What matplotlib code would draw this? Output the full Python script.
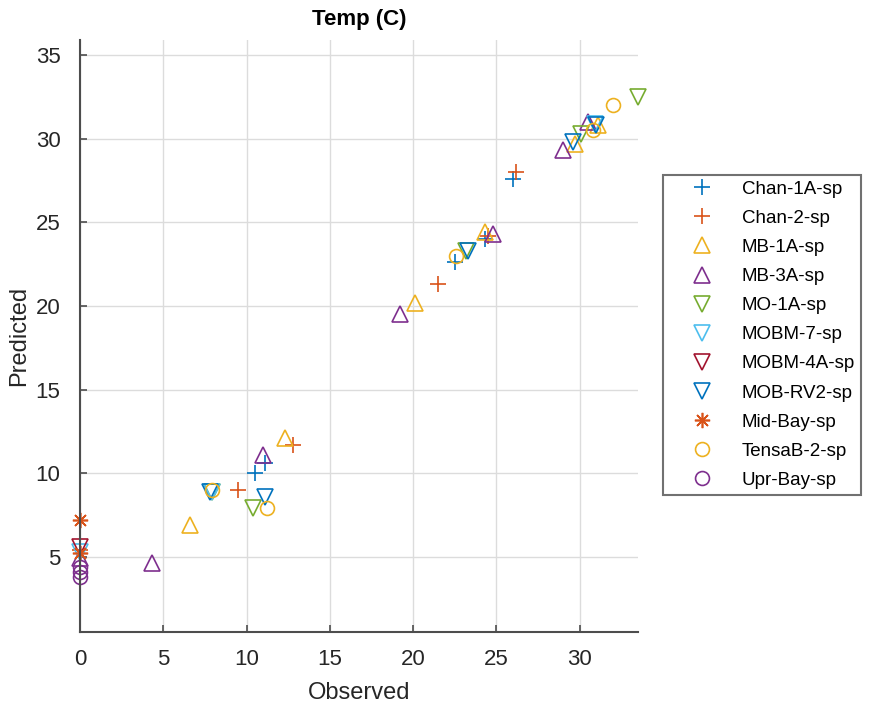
import numpy as np
import matplotlib
matplotlib.use('Agg')
import matplotlib.pyplot as plt

plt.rcParams['font.family'] = ['Liberation Sans', 'DejaVu Sans']

# observed / predicted temperature per station
stations = ['Chan-1A-sp', 'Chan-2-sp', 'MB-1A-sp', 'MB-3A-sp', 'MO-1A-sp',
            'MOBM-7-sp', 'MOBM-4A-sp', 'MOB-RV2-sp', 'Mid-Bay-sp',
            'TensaB-2-sp', 'Upr-Bay-sp']

obs_chan1a = [10.5, 11.1, 22.5, 24.3, 26.0]
pred_chan1a = [10.0, 10.6, 22.6, 24.0, 27.6]

obs_chan2 = [0.0, 9.5, 12.8, 21.5, 24.5, 26.2]
pred_chan2 = [5.4, 9.0, 11.7, 21.3, 24.2, 28.0]

obs_mb1a = [6.6, 12.3, 20.1, 24.3, 29.7, 31.1]
pred_mb1a = [6.9, 12.1, 20.2, 24.4, 29.7, 30.8]

obs_mb3a = [0.0, 4.3, 11.0, 19.2, 24.8, 29.0, 30.5]
pred_mb3a = [4.9, 4.6, 11.1, 19.5, 24.3, 29.3, 31.0]

obs_mo1a = [7.9, 10.4, 23.2, 30.1, 33.5]
pred_mo1a = [8.9, 7.9, 23.3, 30.3, 32.5]

obs_mobm7 = [0.0, 7.9, 30.9]
pred_mobm7 = [5.3, 8.9, 30.9]

obs_mobm4a = [0.0]
pred_mobm4a = [5.6]

obs_mobrv2 = [7.8, 11.1, 23.3, 29.6, 31.0]
pred_mobrv2 = [8.9, 8.6, 23.3, 29.8, 30.8]

obs_midbay = [0.0, 0.0]
pred_midbay = [7.2, 5.2]

obs_tensab2 = [7.9, 11.2, 22.6, 30.8, 32.0]
pred_tensab2 = [9.0, 7.9, 23.0, 30.5, 32.0]

obs_uprbay = [0.0, 0.0, 0.0]
pred_uprbay = [4.4, 4.1, 3.8]

OBS = [obs_chan1a, obs_chan2, obs_mb1a, obs_mb3a, obs_mo1a, obs_mobm7,
       obs_mobm4a, obs_mobrv2, obs_midbay, obs_tensab2, obs_uprbay]
PRED = [pred_chan1a, pred_chan2, pred_mb1a, pred_mb3a, pred_mo1a, pred_mobm7,
        pred_mobm4a, pred_mobrv2, pred_midbay, pred_tensab2, pred_uprbay]

col = ['#0072BD', '#D95319', '#EDB120', '#7E2F8E', '#77AC30', '#4DBEEE', '#A2142F']
colors = [col[0], col[1], col[2], col[3], col[4], col[5], col[6], col[0], col[1], col[2], col[3]]
# (8, 2, 0) = eight-spoke asterisk
markers = ['+', '+', '^', '^', 'v', 'v', 'v', 'v', (8, 2, 0), 'o', 'o']
sizes = [12, 12, 11, 11, 11, 11, 11, 11, 11, 10, 10]

fig = plt.figure(figsize=(8.73, 7.06), dpi=100)
ax = fig.add_axes([80/873, 1-632/706, (638-80)/873, (632-40)/706])

for i in range(len(stations)):
    ax.plot(OBS[i], PRED[i], linestyle='none', marker=markers[i], ms=sizes[i],
            mfc='none', mec=colors[i], mew=1.2, label=stations[i], clip_on=False)

ax.set_xlim(0, 33.5)
ax.set_ylim(0.5, 35.9)
ax.set_xticks(np.arange(0, 35, 5))
ax.set_yticks(np.arange(5, 40, 5))
ax.grid(True, color='#dcdcdc', linewidth=1.0)
ax.set_axisbelow(True)
for s in ['top', 'right']:
    ax.spines[s].set_visible(False)
for s in ['left', 'bottom']:
    ax.spines[s].set_color('#4d4d4d')
    ax.spines[s].set_linewidth(1.5)
ax.tick_params(direction='in', length=5, width=1.2, color='#4d4d4d',
               labelsize=16, labelcolor='#262626')
ax.tick_params(axis='y', pad=14)
ax.tick_params(axis='x', pad=12)

ax.set_title('Temp (C)', fontsize=16, fontweight='bold', pad=11)
ax.set_xlabel('Observed', fontsize=17, color='#262626', labelpad=9)
ax.set_ylabel('Predicted', fontsize=17, color='#262626', labelpad=4)

leg = fig.legend(loc='upper left', bbox_to_anchor=(663/873, 1-175/706),
                 fontsize=13.5, frameon=True, fancybox=False, labelspacing=0.64,
                 handletextpad=0.3, borderpad=0.3, handlelength=3.6,
                 borderaxespad=0)
leg.get_frame().set_edgecolor('#4d4d4d')
leg.get_frame().set_linewidth(1.5)

plt.savefig('out.png', dpi=100)
